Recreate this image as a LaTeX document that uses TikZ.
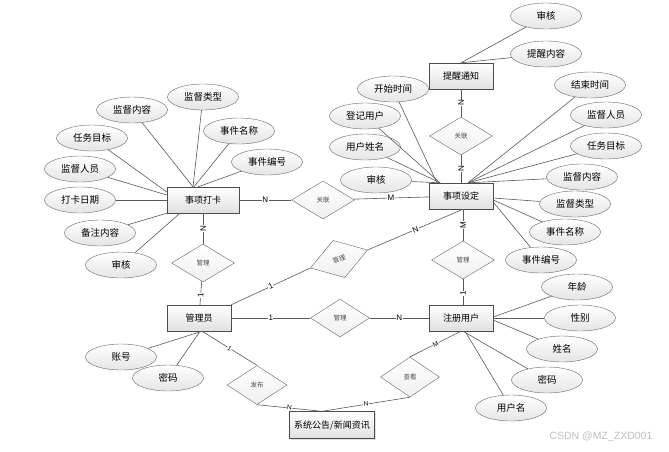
\documentclass[tikz,border=0pt]{standalone}
\usepackage{fontspec}
\setmainfont{Liberation Sans}
\newfontfamily\cjk{Noto Sans CJK SC}
\usetikzlibrary{shapes.geometric,shadows}

\begin{document}
\begin{tikzpicture}[x=1pt,y=-1pt,
	entity/.style={draw=black!70, rectangle, minimum width=64pt, minimum height=26pt, inner sep=1pt, top color=white, bottom color=black!12, font=\cjk\fontsize{9}{10}\selectfont, drop shadow={shadow xshift=1pt, shadow yshift=-1pt, opacity=0.25}},
	attr/.style={draw=black!60, ellipse, minimum width=71pt, minimum height=26pt, inner sep=0pt, top color=white, bottom color=black!10, font=\cjk\fontsize{9.5}{10}\selectfont},
	rel/.style={draw=black!60, diamond, minimum width=63pt, minimum height=38pt, inner sep=0pt, top color=white, bottom color=black!6, font=\cjk\fontsize{6.5}{7}\selectfont, text=black!70},
	link/.style={draw=black!65, line width=0.6pt},
	card/.style={font=\fontsize{8}{8}\selectfont, fill=white, inner sep=0.4pt},
	smallcard/.style={card, font=\fontsize{6.5}{6.5}\selectfont}]
	\useasboundingbox (0,0) rectangle (669,451);

	% entities
	\node[entity, minimum width=72pt] (dk) at (203,200) {事项打卡};
	\node[entity] (sd) at (461,196) {事项设定};
	\node[entity] (tx) at (461,76) {提醒通知};
	\node[entity] (gly) at (199,318) {管理员};
	\node[entity] (zc) at (461,318) {注册用户};
	\node[entity, minimum width=85pt, minimum height=27pt] (xt) at (332,425) {系统公告/新闻资讯};

	% relations
	\node[rel] (gl1) at (323,200) {关联};
	\node[rel] (gl2) at (461,136) {关联};
	\node[rel] (gl3) at (203,263) {管理};
	\node[rel] (gl4) at (463,260) {管理};
	\node[rel, minimum width=59pt] (gl5) at (340,318) {管理};
	\node[rel, minimum width=60pt, minimum height=39pt, rotate=17.5] (gl6) at (339,259) {管理};
	\node[rel, minimum width=60pt, minimum height=39pt] (fb) at (257,385) {发布};
	\node[rel, minimum width=59pt, minimum height=40pt] (ck) at (410,377) {查看};

	% attributes of 事项打卡
	\node[attr] (dkNr) at (132,110) {监督内容};
	\node[attr] (dkLx) at (203,97) {监督类型};
	\node[attr] (dkMc) at (239,131) {事件名称};
	\node[attr] (dkBh) at (267,162) {事件编号};
	\node[attr] (dkMb) at (92,138) {任务目标};
	\node[attr] (dkRy) at (80,169) {监督人员};
	\node[attr] (dkRq) at (80,200) {打卡日期};
	\node[attr] (dkBz) at (100,233) {备注内容};
	\node[attr] (dkSh) at (121,265) {审核};
	\draw[link] (dkNr) -- ([xshift=-10pt]dk.north);
	\draw[link] (dkLx) -- ([xshift=-10pt]dk.north);
	\draw[link] (dkMc) -- ([xshift=-9pt]dk.north);
	\draw[link] (dkBh) -- ([xshift=-5pt]dk.north);
	\draw[link] (dkMb) -- ([yshift=8pt]dk.west);
	\draw[link] (dkRy) -- ([yshift=5pt]dk.west);
	\draw[link] (dkRq) -- (dk.west);
	\draw[link] (dkBz) -- (dk.south west);
	\draw[link] (dkSh) -- ([xshift=-23pt]dk.south);

	% attributes of 提醒通知
	\node[attr] (txSh) at (546,16) {审核};
	\node[attr] (txNr) at (546,54) {提醒内容};
	\draw[link] (txSh) -- (tx.north);
	\draw[link] (txNr) -- (tx.north);

	% attributes of 事项设定
	\node[attr] (sdKs) at (393,89) {开始时间};
	\node[attr] (sdDj) at (365,116) {登记用户};
	\node[attr] (sdXm) at (365,147) {用户姓名};
	\node[attr] (sdSh) at (376,180) {审核};
	\node[attr] (sdJs) at (590,85) {结束时间};
	\node[attr] (sdRy) at (606,115) {监督人员};
	\node[attr] (sdMb) at (606,146) {任务目标};
	\node[attr] (sdNr) at (582,177) {监督内容};
	\node[attr] (sdLx) at (575,204) {监督类型};
	\node[attr] (sdMc) at (565,232) {事件名称};
	\node[attr] (sdBh) at (541,260) {事件编号};
	\draw[link] (sdKs) -- ([xshift=-24pt]sd.north);
	\draw[link] (sdDj) -- ([xshift=-21pt]sd.north);
	\draw[link] (sdXm) -- ([xshift=-21pt]sd.north);
	\draw[link] (sdSh) -- ([xshift=-21pt]sd.north);
	\draw[link] (sdJs) -- ([xshift=7pt]sd.north);
	\draw[link] (sdRy) -- ([xshift=7pt]sd.north);
	\draw[link] (sdMb) -- ([xshift=7pt]sd.north);
	\draw[link] (sdNr) -- ([xshift=7pt]sd.north);
	\draw[link] (sdLx) -- ([yshift=-2pt]sd.east);
	\draw[link] (sdMc) -- ([yshift=-4pt]sd.east);
	\draw[link] (sdBh) -- ([yshift=-6pt]sd.east);

	% attributes of 注册用户
	\node[attr] (zcNl) at (577,287) {年龄};
	\node[attr] (zcXb) at (580,318) {性别};
	\node[attr] (zcXm) at (562,349) {姓名};
	\node[attr] (zcMm) at (547,380) {密码};
	\node[attr] (zcYh) at (511,408) {用户名};
	\draw[link] (zcNl) -- ([yshift=1pt]zc.east);
	\draw[link] (zcXb) -- (zc.east);
	\draw[link] (zcXm) -- ([yshift=-2pt]zc.east);
	\draw[link] (zcMm) -- ([xshift=2pt]zc.south);
	\draw[link] (zcYh) -- ([xshift=4pt]zc.south);

	% attributes of 管理员
	\node[attr] (glyZh) at (121,357) {账号};
	\node[attr] (glyMm) at (168,378) {密码};
	\draw[link] (glyZh) -- ([xshift=3pt]gly.south);
	\draw[link] (glyMm) -- ([xshift=1pt]gly.south);

	% relationships
	\draw[link] (dk) -- node[card] {N} (gl1);
	\draw[link] (gl1) -- node[card] {M} (sd);
	\draw[link] (tx) -- node[card, rotate=90] {N} (gl2);
	\draw[link] (gl2) -- node[card, rotate=90] {N} (sd);
	\draw[link] (dk) -- node[card, rotate=90] {N} (gl3);
	\draw[link] (gl3) -- node[card, pos=0.6, rotate=90] {1} (gly);
	\draw[link] ([xshift=2pt]sd.south) -- node[card, rotate=90] {M} (gl4.north);
	\draw[link] (gl4.south) -- node[card, pos=0.55, rotate=90] {1} ([xshift=2pt]zc.north);
	\draw[link] (gly) -- node[card] {1} (gl5);
	\draw[link] (gl5) -- node[card] {N} (zc);
	\draw[link] (gly.north east) -- node[card, sloped] {1} (gl6.west);
	\draw[link] (gl6.east) -- node[card, sloped] {N} ([xshift=2pt]sd.south);
	\draw[link] ([xshift=3pt]gly.south) -- node[smallcard, sloped] {1} (fb.north);
	\draw[link] (fb.south) -- node[smallcard, sloped] {N} ([xshift=-10pt]xt.north);
	\draw[link] (ck.south) -- node[smallcard, sloped] {N} ([xshift=-10pt]xt.north);
	\draw[link] (ck.north) -- node[smallcard, sloped] {M} (zc.south);

	\node[text=black!25, font=\fontsize{10.5}{10.5}\selectfont] (wm) at (601,437) {CSDN @MZ\_ZXD001};
\end{tikzpicture}
\end{document}
